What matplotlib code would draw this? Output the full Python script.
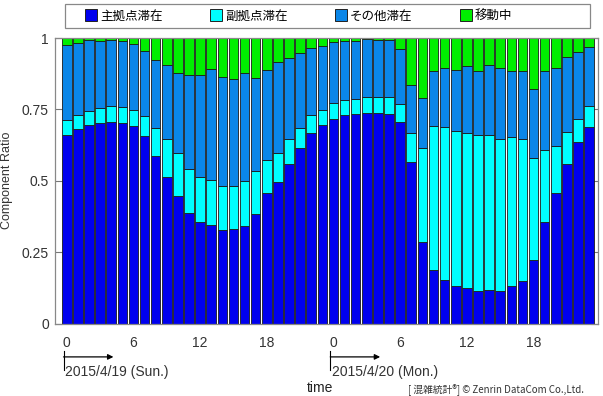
import matplotlib
matplotlib.use('Agg')
import matplotlib.pyplot as plt
import numpy as np
from matplotlib.lines import Line2D
from matplotlib.patches import Rectangle

plt.rcParams['font.family'] = ['Liberation Sans', 'DejaVu Sans']

# --- data (fraction of population per hour, 2 days x 24h) ---
hours = np.arange(48)
main_stay = [0.661, 0.680, 0.695, 0.702, 0.707, 0.702, 0.693, 0.658, 0.585, 0.512, 0.447, 0.387,
             0.356, 0.345, 0.328, 0.331, 0.341, 0.382, 0.457, 0.496, 0.560, 0.616, 0.668, 0.696,
             0.717, 0.729, 0.734, 0.737, 0.736, 0.734, 0.707, 0.564, 0.287, 0.187, 0.152, 0.132,
             0.124, 0.114, 0.117, 0.114, 0.130, 0.150, 0.223, 0.355, 0.457, 0.560, 0.634, 0.689]
sub_stay = [0.052, 0.051, 0.051, 0.053, 0.055, 0.056, 0.056, 0.070, 0.101, 0.133, 0.151, 0.153,
            0.156, 0.157, 0.152, 0.150, 0.157, 0.151, 0.117, 0.102, 0.085, 0.070, 0.061, 0.052,
            0.055, 0.054, 0.053, 0.057, 0.057, 0.059, 0.061, 0.103, 0.329, 0.506, 0.536, 0.542,
            0.542, 0.546, 0.542, 0.533, 0.522, 0.495, 0.355, 0.254, 0.164, 0.112, 0.083, 0.073]
other_stay = [0.261, 0.250, 0.246, 0.233, 0.231, 0.230, 0.229, 0.228, 0.236, 0.260, 0.281, 0.329,
              0.359, 0.389, 0.383, 0.374, 0.378, 0.327, 0.314, 0.317, 0.285, 0.260, 0.235, 0.224,
              0.213, 0.208, 0.201, 0.201, 0.201, 0.199, 0.193, 0.168, 0.173, 0.193, 0.207, 0.214,
              0.235, 0.226, 0.246, 0.247, 0.231, 0.238, 0.242, 0.274, 0.274, 0.263, 0.234, 0.205]
moving = [0.026, 0.019, 0.008, 0.012, 0.007, 0.012, 0.022, 0.044, 0.078, 0.095, 0.121, 0.131,
          0.129, 0.109, 0.137, 0.145, 0.124, 0.140, 0.112, 0.085, 0.070, 0.054, 0.036, 0.028,
          0.015, 0.009, 0.012, 0.005, 0.006, 0.008, 0.039, 0.165, 0.211, 0.114, 0.105, 0.112,
          0.099, 0.114, 0.095, 0.106, 0.117, 0.117, 0.180, 0.117, 0.105, 0.065, 0.049, 0.033]

labels = ['主拠点滞在', '副拠点滞在', 'その他滞在', '移動中']
colors = ['#0000EE', '#00FFFF', '#0A86E8', '#00EE00']

xtick_pos = [0, 6, 12, 18, 24, 30, 36, 42]
xtick_lab = ['0', '6', '12', '18', '0', '6', '12', '18']
day_labels = ['2015/4/19 (Sun.)', '2015/4/20 (Mon.)']
day_start = [0, 24]

W, H = 603, 396
fig = plt.figure(figsize=(W / 100, H / 100), dpi=100)
ax = fig.add_axes([54.5 / W, 1 - 323.5 / H, (598 - 54.5) / W, (323.5 - 38) / H])

bottom = np.zeros(48)
for vals, col in zip([main_stay, sub_stay, other_stay, moving], colors):
    ax.bar(hours, vals, bottom=bottom, width=0.86, color=col,
           edgecolor='#1a1a1a', linewidth=0.6, zorder=2)
    bottom += np.array(vals)

ax.set_xlim(-1.1, 47.8)
ax.set_ylim(0, 1)
ax.set_yticks([0, 0.25, 0.5, 0.75, 1])
ax.set_yticklabels(['0', '0.25', '0.5', '0.75', '1'])
ax.set_xticks(xtick_pos)
ax.set_xticklabels(xtick_lab)
ax.tick_params(axis='y', direction='in', length=5, width=0.8, colors='#777777',
               labelcolor='#333333', labelsize=10, right=True, pad=4)
ax.tick_params(axis='x', length=0, labelcolor='#333333', labelsize=10, pad=9)
for s in ax.spines.values():
    s.set_color('#888888')
    s.set_linewidth(0.9)

ax.set_ylabel('Component Ratio', fontsize=9, color='#333333')
ax.yaxis.set_label_coords(-(54.5 - 13) / (598 - 54.5), 0.5)

# day arrows
tr = ax.get_xaxis_transform()
for d0, dl in zip(day_start, day_labels):
    ax.plot([d0 - 0.29, d0 - 0.29], [-0.096, -0.163], color='black', lw=0.8,
            transform=tr, clip_on=False)
    ax.annotate('', xy=(d0 + 4.2, -0.117), xytext=(d0 - 0.29, -0.117), xycoords=tr,
                textcoords=tr, arrowprops=dict(arrowstyle='-|>', color='black', lw=0.9,
                                               mutation_scale=8, shrinkA=0, shrinkB=0))
    ax.text(d0 - 0.15, -0.147, dl, transform=tr, ha='left', va='top',
            fontsize=10, color='#333333')

fig.text(320 / W, 1 - 395.5 / H, 'time', ha='center', va='bottom', fontsize=10, color='#222222')
fig.text(408 / W, 1 - 393 / H, '[ 混雑統計®] © Zenrin DataCom Co.,Ltd.', ha='left', va='baseline',
         fontsize=7, color='#333333',
         family=['Noto Sans CJK JP', 'DejaVu Sans'])

# legend box
fig.patches.append(Rectangle((65 / W, 1 - 28 / H), 525 / W, 24 / H, transform=fig.transFigure,
                             facecolor='white', edgecolor='#888888', linewidth=0.9))
handles = [Line2D([0], [0], marker='s', ls='', markersize=8, markerfacecolor=c,
                  markeredgecolor='#222222', markeredgewidth=0.7) for c in colors]
fig.legend(handles, labels, loc='center left', bbox_to_anchor=(80 / W, 1 - 16 / H),
           ncol=4, frameon=False, handlelength=0.8, handletextpad=0.3, columnspacing=3.9,
           borderpad=0, prop={'family': ['Noto Sans CJK JP', 'DejaVu Sans'], 'size': 9})

fig.savefig('out.png', dpi=100)
